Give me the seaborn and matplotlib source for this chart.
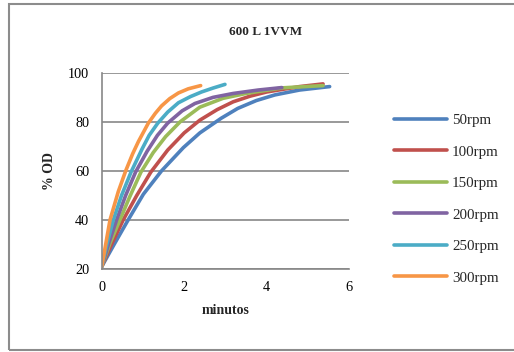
import matplotlib
matplotlib.use("Agg")
import matplotlib.pyplot as plt
import matplotlib.patches as mpatches
import seaborn as sns
import pandas as pd

# Growth curves (% OD vs minutes) for a 600 L run at 1 VVM
labels = ["50rpm", "100rpm", "150rpm", "200rpm", "250rpm", "300rpm"]
t_50 = [0, 0.3, 0.64, 1.01, 1.45, 1.98, 2.38, 2.9, 3.3, 3.75, 4.2, 4.8, 5.53]
od_50 = [21, 30, 40, 50.5, 60, 69.5, 75.5, 81.5, 85.5, 88.7, 91, 93, 94.4]
t_100 = [0, 0.25, 0.52, 0.85, 1.19, 1.6, 2.0, 2.38, 2.8, 3.19, 3.6, 4.0, 4.8, 5.37]
od_100 = [21, 30.5, 40, 50, 59.5, 68.5, 75.5, 80.7, 85, 88.2, 90.5, 92.2, 94.4, 95.5]
t_150 = [0, 0.2, 0.44, 0.68, 0.95, 1.25, 1.55, 1.9, 2.38, 2.94, 3.5, 4.4, 5.37]
od_150 = [21, 30.5, 40, 49.5, 59.5, 67.5, 74, 80, 86, 89.6, 91.6, 93.9, 94.8]
t_200 = [0, 0.17, 0.36, 0.58, 0.82, 1.1, 1.35, 1.6, 1.95, 2.26, 2.7, 3.19, 3.8, 4.37]
od_200 = [21, 30.5, 40, 50, 59.5, 68, 74.5, 79.5, 84.5, 87.5, 90, 91.6, 93, 94]
t_250 = [0, 0.13, 0.28, 0.48, 0.71, 0.98, 1.15, 1.36, 1.6, 1.86, 2.15, 2.42, 2.7, 2.99]
od_250 = [21, 30.5, 40, 50, 59.5, 69, 74.5, 79.5, 84, 87.8, 90.3, 92.2, 93.8, 95.3]
t_300 = [0, 0.1, 0.2, 0.4, 0.58, 0.75, 0.89, 1.13, 1.3, 1.45, 1.65, 1.86, 2.1, 2.4]
od_300 = [21, 30.5, 40, 51.5, 60, 67, 72, 79.5, 83.5, 86.5, 89.5, 91.8, 93.5, 94.8]

colors = ["#4F81BD", "#C0504D", "#9BBB59", "#8064A2", "#4BACC6", "#F79646"]
x_ticks = [0, 2, 4, 6]
y_ticks = [20, 40, 60, 80, 100]

series = [(t_50, od_50), (t_100, od_100), (t_150, od_150),
          (t_200, od_200), (t_250, od_250), (t_300, od_300)]
frames = []
for name, (t, od) in zip(labels, series):
    frames.append(pd.DataFrame({"minutos": t, "OD": od, "rpm": name}))
df = pd.concat(frames, ignore_index=True)

sns.set_theme(style="white")
plt.rcParams["font.family"] = ["Liberation Serif", "DejaVu Serif"]

fig = plt.figure(figsize=(5.14, 3.52), dpi=100)
ax = fig.add_axes([0.198, 0.236, 0.481, 0.557])

sns.lineplot(data=df, x="minutos", y="OD", hue="rpm", hue_order=labels,
             palette=colors, linewidth=2.6, sort=False, ax=ax,
             solid_capstyle="round", solid_joinstyle="round", estimator=None)

ax.set_xlim(0, 6)
ax.set_ylim(20, 100)
ax.set_xticks(x_ticks)
ax.set_yticks(y_ticks)
ax.yaxis.grid(True, color="#878787", linewidth=1.2)
ax.set_axisbelow(True)
for side in ["top", "right"]:
    ax.spines[side].set_visible(False)
for side in ["left", "bottom"]:
    ax.spines[side].set_color("#878787")
    ax.spines[side].set_linewidth(1.2)
ax.tick_params(axis="both", length=0, labelsize=10.3, colors="black")
ax.tick_params(axis="y", pad=9)
ax.tick_params(axis="x", pad=9)

ax.set_xlabel("minutos", fontsize=10, fontweight="bold", labelpad=7)
ax.set_ylabel("% OD", fontsize=10, fontweight="bold", labelpad=9)
fig.text(0.516, 0.909, "600 L 1VVM", ha="center", va="center",
         fontsize=9.5, fontweight="bold")

handles, lbls = ax.get_legend_handles_labels()
ax.legend(handles, lbls, loc="upper left", bbox_to_anchor=(0.766, 0.677),
          bbox_transform=fig.transFigure, frameon=False, fontsize=10.8,
          handlelength=3.56, handletextpad=0.33, labelspacing=1.2,
          borderaxespad=0, borderpad=0)

# outer chart frame
fig.add_artist(mpatches.Rectangle((9 / 514, 2 / 352), 1.2, 346 / 352,
                                  transform=fig.transFigure, fill=False,
                                  edgecolor="#8c8c8c", linewidth=1.5))

fig.savefig("out.png", dpi=100)
